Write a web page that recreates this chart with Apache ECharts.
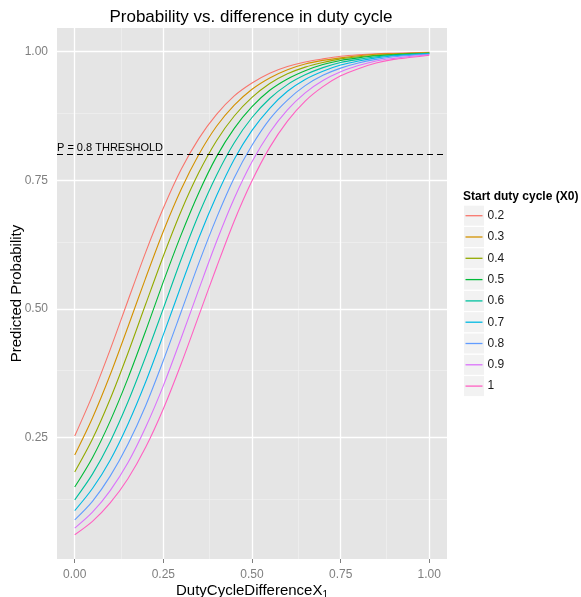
<!DOCTYPE html>
<html>
<head>
<meta charset="utf-8">
<script src="https://cdn.jsdelivr.net/npm/echarts@6/dist/echarts.min.js"></script>
<style>
  html, body { margin: 0; padding: 0; background: #fff; }
  #chart { width: 581px; height: 597px; }
</style>
</head>
<body>
<div id="chart"></div>
<script>
// x positions (difference in duty cycle)
const xValues = [0, 0.05, 0.1, 0.15, 0.2, 0.25, 0.3, 0.35, 0.4, 0.45, 0.5,
  0.55, 0.6, 0.65, 0.7, 0.75, 0.8, 0.85, 0.9, 0.95, 1]

// start duty cycle groups
const startDuty = ['0.2', '0.3', '0.4', '0.5', '0.6', '0.7', '0.8', '0.9', '1']

// predicted probability
const prob02 = [0.253, 0.332, 0.421, 0.516, 0.610, 0.696, 0.771, 0.831, 0.878, 0.914, 0.939,
  0.958, 0.971, 0.980, 0.986, 0.991, 0.994, 0.996, 0.997, 0.998, 0.999]
const prob03 = [0.216, 0.288, 0.372, 0.465, 0.560, 0.651, 0.732, 0.800, 0.855, 0.896, 0.927,
  0.949, 0.965, 0.976, 0.983, 0.988, 0.992, 0.995, 0.996, 0.997, 0.998]
const prob04 = [0.183, 0.247, 0.325, 0.414, 0.509, 0.603, 0.690, 0.765, 0.827, 0.875, 0.911,
  0.938, 0.957, 0.970, 0.979, 0.986, 0.990, 0.993, 0.995, 0.997, 0.998]
const prob05 = [0.154, 0.211, 0.282, 0.365, 0.457, 0.553, 0.644, 0.726, 0.796, 0.851, 0.893,
  0.925, 0.947, 0.963, 0.975, 0.983, 0.988, 0.992, 0.994, 0.996, 0.997]
const prob06 = [0.129, 0.179, 0.242, 0.319, 0.407, 0.501, 0.596, 0.684, 0.760, 0.823, 0.872,
  0.909, 0.936, 0.955, 0.969, 0.979, 0.985, 0.990, 0.993, 0.995, 0.997]
const prob07 = [0.108, 0.151, 0.206, 0.276, 0.358, 0.450, 0.545, 0.638, 0.720, 0.791, 0.847,
  0.890, 0.923, 0.946, 0.962, 0.974, 0.982, 0.988, 0.992, 0.994, 0.996]
const prob08 = [0.090, 0.126, 0.175, 0.237, 0.312, 0.400, 0.494, 0.589, 0.677, 0.755, 0.818,
  0.869, 0.906, 0.934, 0.954, 0.968, 0.978, 0.985, 0.990, 0.993, 0.995]
const prob09 = [0.074, 0.105, 0.147, 0.201, 0.270, 0.351, 0.443, 0.538, 0.631, 0.715, 0.786,
  0.843, 0.887, 0.920, 0.944, 0.961, 0.973, 0.982, 0.987, 0.991, 0.994]
const prob10 = [0.061, 0.087, 0.123, 0.170, 0.231, 0.306, 0.393, 0.487, 0.581, 0.671, 0.749,
  0.814, 0.865, 0.904, 0.932, 0.953, 0.967, 0.978, 0.985, 0.989, 0.993]

const probs = [prob02, prob03, prob04, prob05, prob06, prob07, prob08, prob09, prob10]

// tick labels
const xTicks = [0, 0.25, 0.5, 0.75, 1]
const xMinor = [0.125, 0.375, 0.625, 0.875]
const yTicks = [0.25, 0.5, 0.75, 1]
const yMinor = [0.125, 0.375, 0.625, 0.875]
const threshold = 0.8

const colors = ['#F8766D', '#D39200', '#93AA00', '#00BA38', '#00C19F',
  '#00B9E3', '#619CFF', '#DB72FB', '#FF61C3']

const FONT = 'Liberation Sans, Arial, sans-serif'

var myChart = echarts.init(document.getElementById('chart'), null, { renderer: 'canvas' })

const lineSeries = startDuty.map((name, i) => ({
  name: name,
  type: 'line',
  showSymbol: false,
  symbol: 'none',
  smooth: 0.3,
  z: 3,
  lineStyle: { color: colors[i], width: 1.1 },
  itemStyle: { color: colors[i] },
  data: xValues.map((x, j) => [x, probs[i][j]])
}))

function gridLines(name, xs, ys, color, width, z) {
  return {
    name: name,
    type: 'line',
    data: [],
    silent: true,
    z: z,
    markLine: {
      silent: true,
      z: z,
      symbol: 'none',
      animation: false,
      label: { show: false },
      emphasis: { disabled: true },
      lineStyle: { color: color, width: width, type: 'solid' },
      data: xs.map(v => ({ xAxis: v })).concat(ys.map(v => ({ yAxis: v })))
    }
  }
}

// grey key boxes behind legend lines
const legendTop = 205.7
const legendStep = 21.3
const keyBoxes = startDuty.map((n, i) => ({
  type: 'rect',
  left: 464,
  top: legendTop + i * legendStep,
  z: 0,
  shape: { width: 20, height: 20 },
  style: { fill: '#F2F2F2' }
}))

const option = {
  animation: false,
  backgroundColor: '#ffffff',
  grid: {
    left: 57,
    right: 134,
    top: 28,
    bottom: 38,
    show: true,
    backgroundColor: '#E5E5E5',
    borderWidth: 0,
    containLabel: false,
    outerBoundsMode: 'none'
  },
  graphic: [
    {
      type: 'text',
      x: 251,
      y: 17,
      style: {
        text: 'Probability vs. difference in duty cycle',
        font: '17px ' + FONT,
        fill: '#000',
        align: 'center',
        verticalAlign: 'middle'
      }
    },
    {
      type: 'text',
      x: 463,
      y: 197,
      style: {
        text: 'Start duty cycle (X0)',
        font: 'bold 12px ' + FONT,
        fill: '#000',
        align: 'left',
        verticalAlign: 'middle'
      }
    }
  ].concat(keyBoxes),
  legend: {
    data: startDuty,
    orient: 'vertical',
    left: 465.5,
    top: legendTop,
    padding: 0,
    icon: 'rect',
    itemWidth: 17,
    itemHeight: 1.3,
    itemGap: legendStep - 20,
    selectedMode: false,
    textStyle: { fontFamily: FONT, fontSize: 12, color: '#1a1a1a', lineHeight: 20, height: 20 }
  },
  xAxis: {
    type: 'value',
    min: -0.05,
    max: 1.05,
    name: 'DutyCycleDifferenceX{sub|1}',
    nameLocation: 'middle',
    nameGap: 23,
    nameMoveOverlap: false,
    nameTextStyle: {
      fontFamily: FONT,
      fontSize: 15,
      color: '#000',
      rich: {
        sub: { fontFamily: FONT, fontSize: 10, color: '#000', padding: [8, 0, 0, 0] }
      }
    },
    axisLine: { show: false },
    axisTick: {
      show: true,
      length: 4,
      customValues: xTicks,
      lineStyle: { color: '#7F7F7F', width: 1 }
    },
    axisLabel: {
      customValues: xTicks,
      margin: 10,
      color: '#7F7F7F',
      fontFamily: FONT,
      fontSize: 12,
      formatter: v => v.toFixed(2)
    },
    splitLine: { show: false }
  },
  yAxis: {
    type: 'value',
    min: 0.014,
    max: 1.046,
    name: 'Predicted Probability',
    nameLocation: 'middle',
    nameGap: 33,
    nameMoveOverlap: false,
    nameTextStyle: { fontFamily: FONT, fontSize: 15, color: '#000' },
    axisLine: { show: false },
    axisTick: {
      show: true,
      length: 4,
      customValues: yTicks,
      lineStyle: { color: '#7F7F7F', width: 1 }
    },
    axisLabel: {
      customValues: yTicks,
      margin: 9,
      color: '#7F7F7F',
      fontFamily: FONT,
      fontSize: 12,
      formatter: v => v.toFixed(2)
    },
    splitLine: { show: false }
  },
  series: [
    gridLines('minor', xMinor, yMinor, '#F2F2F2', 0.6, 1),
    gridLines('major', xTicks, yTicks, '#FFFFFF', 1.3, 2),
    {
      name: 'threshold',
      type: 'line',
      data: [],
      silent: true,
      z: 4,
      markLine: {
        silent: true,
        z: 4,
        symbol: 'none',
        animation: false,
        emphasis: { disabled: true },
        lineStyle: { color: '#000', width: 1, type: [6, 4] },
        label: {
          show: true,
          position: 'insideStartTop',
          formatter: 'P = 0.8 THRESHOLD',
          distance: [0, 1],
          color: '#000',
          fontFamily: FONT,
          fontSize: 11
        },
        data: [{ yAxis: threshold }]
      }
    }
  ].concat(lineSeries)
}

option && myChart.setOption(option)
</script>
</body>
</html>
